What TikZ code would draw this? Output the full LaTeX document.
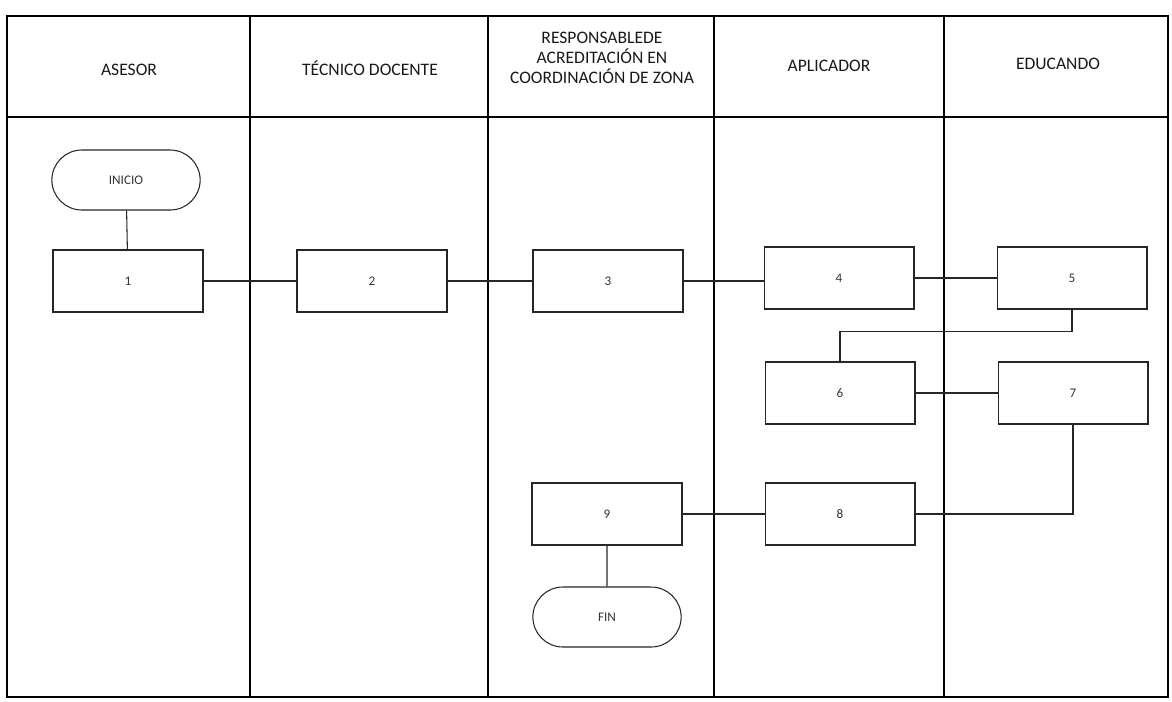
\documentclass[tikz,border=0pt]{standalone}
\usepackage{fontspec}
\setmainfont{Carlito}
\usetikzlibrary{shapes.misc}

\begin{document}
\begin{tikzpicture}[x=0.02cm,y=-0.02cm,
  box/.style={draw=black!85, line width=0.6pt, minimum width=3cm, minimum height=1.24cm,
    font=\fontsize{7.5}{8}\selectfont, text=black!80},
  term/.style={box, rounded rectangle, minimum width=3.2cm, minimum height=1.2cm},
  lane/.style={font=\fontsize{10}{11.5}\selectfont, align=center, text=black!90},
  link/.style={draw=black!85, line width=0.6pt}]
\useasboundingbox (0,0) rectangle (1172,701);

% table
\draw [line width=1.1pt] (7,16) rectangle (1168,697);
\draw [line width=1.1pt] (7,117) -- (1168,117);
\foreach \x in {250,488,714,944}
  \draw [line width=1.1pt] (\x,16) -- (\x,697);

\node[lane] (asesor) at (129,70) {ASESOR};
\node[lane] (tecnico) at (370,68) {TÉCNICO DOCENTE};
\node[lane] (resp) at (602,58) {RESPONSABLEDE\\ACREDITACIÓN EN\\COORDINACIÓN DE ZONA};
\node[lane] (aplic) at (829,66) {APLICADOR};
\node[lane] (educ) at (1058,64) {EDUCANDO};

% steps
\node[term] (inicio) at (126,180) {INICIO};
\node[box] (b1) at (128,281) {1};
\node[box] (b2) at (372,281) {2};
\node[box] (b3) at (608,281) {3};
\node[box] (b4) at (839,278) {4};
\node[box] (b5) at (1072,278) {5};
\node[box] (b6) at (840,393) {6};
\node[box] (b7) at (1073,393) {7};
\node[box] (b8) at (840,514) {8};
\node[box] (b9) at (607,514) {9};
\node[term] (fin) at (607,617) {FIN};

\draw [link] (inicio) -- (b1);
\draw [link] (b1) -- (b2);
\draw [link] (b2) -- (b3);
\draw [link] (b3.east) -- (b4.west |- b3.east);
\draw [link] (b4) -- (b5);
\draw [link] (b5.south) -- ++(0,22) -| (b6.north);
\draw [link] (b6) -- (b7);
\draw [link] (b7.south) |- (b8.east);
\draw [link] (b8) -- (b9);
\draw [link] (b9) -- (fin);
\end{tikzpicture}
\end{document}
